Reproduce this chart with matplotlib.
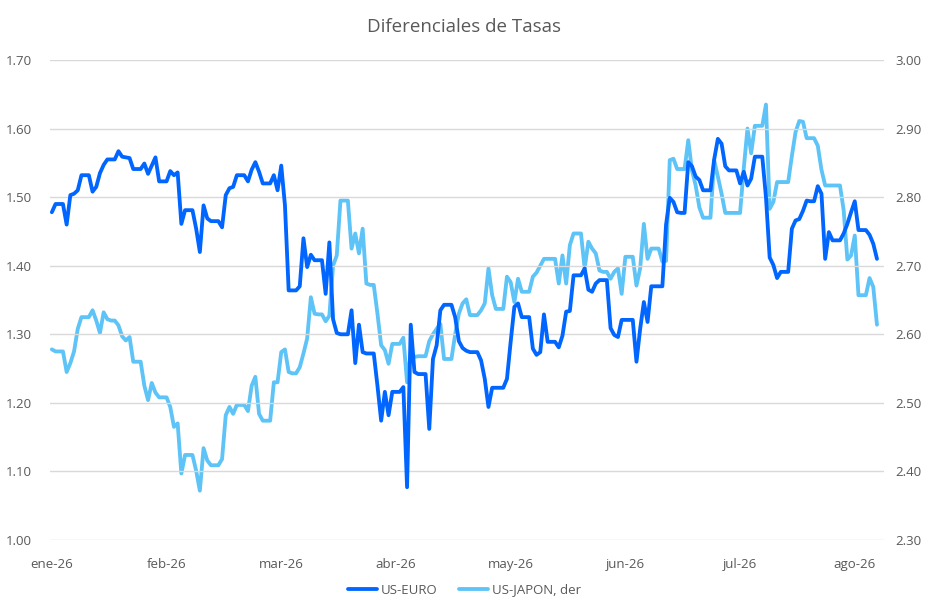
import numpy as np
import pandas as pd
import matplotlib
matplotlib.use("Agg")
import matplotlib.pyplot as plt

# Daily values (weekends carry Friday's value), 1 Jan 2026 .. 12 Aug 2026
us_euro = [
    1.478, 1.490, 1.490, 1.490,
    1.460, 1.503, 1.505, 1.510, 1.532, 1.532, 1.532,
    1.508, 1.515, 1.535, 1.547, 1.555, 1.555, 1.555,
    1.567, 1.559, 1.558, 1.557, 1.541, 1.541, 1.541,
    1.549, 1.534, 1.546, 1.558, 1.523, 1.523, 1.523,
    1.538, 1.532, 1.536, 1.461, 1.481, 1.481, 1.481,
    1.454, 1.420, 1.488, 1.469, 1.465, 1.465, 1.465,
    1.456, 1.503, 1.513, 1.515, 1.532, 1.532, 1.532,
    1.523, 1.540, 1.551, 1.537, 1.520, 1.520, 1.520,
    1.532, 1.510, 1.546, 1.488, 1.364, 1.364, 1.364,
    1.370, 1.440, 1.398, 1.416, 1.408, 1.408, 1.408,
    1.359, 1.434, 1.322, 1.302, 1.300, 1.300, 1.300,
    1.335, 1.258, 1.314, 1.274, 1.272, 1.272, 1.272,
    1.225, 1.174, 1.216, 1.182, 1.216, 1.216, 1.216,
    1.223, 1.077, 1.314, 1.245, 1.242, 1.242, 1.242,
    1.162, 1.264, 1.284, 1.335, 1.343, 1.343, 1.343,
    1.325, 1.290, 1.280, 1.276, 1.274, 1.274, 1.274,
    1.262, 1.235, 1.194, 1.222, 1.222, 1.222, 1.222,
    1.235, 1.289, 1.340, 1.345, 1.325, 1.325, 1.325,
    1.279, 1.270, 1.274, 1.329, 1.289, 1.289, 1.289,
    1.281, 1.298, 1.333, 1.334, 1.386, 1.386, 1.386,
    1.396, 1.365, 1.362, 1.374, 1.379, 1.379, 1.379,
    1.309, 1.299, 1.296, 1.321, 1.321, 1.321, 1.321,
    1.260, 1.308, 1.347, 1.318, 1.370, 1.370, 1.370,
    1.370, 1.460, 1.499, 1.493, 1.478, 1.477, 1.477,
    1.551, 1.545, 1.530, 1.525, 1.510, 1.510, 1.510,
    1.555, 1.585, 1.578, 1.545, 1.539, 1.539, 1.539,
    1.520, 1.537, 1.517, 1.527, 1.559, 1.559, 1.559,
    1.500, 1.412, 1.401, 1.382, 1.391, 1.391, 1.391,
    1.454, 1.466, 1.468, 1.480, 1.495, 1.494, 1.494,
    1.516, 1.505, 1.410, 1.449, 1.437, 1.437, 1.437,
    1.447, 1.461, 1.478, 1.494, 1.452, 1.452, 1.452,
    1.445, 1.432, 1.410,
]

us_japon = [
    2.578, 2.575, 2.575, 2.575,
    2.545, 2.558, 2.575, 2.608, 2.625, 2.625, 2.625,
    2.635, 2.620, 2.602, 2.632, 2.622, 2.620, 2.620,
    2.613, 2.597, 2.591, 2.596, 2.560, 2.560, 2.560,
    2.525, 2.504, 2.529, 2.515, 2.508, 2.508, 2.508,
    2.494, 2.465, 2.470, 2.397, 2.424, 2.424, 2.424,
    2.401, 2.372, 2.434, 2.416, 2.409, 2.409, 2.409,
    2.418, 2.482, 2.494, 2.484, 2.497, 2.497, 2.497,
    2.488, 2.525, 2.538, 2.484, 2.474, 2.474, 2.474,
    2.530, 2.530, 2.574, 2.578, 2.545, 2.543, 2.543,
    2.552, 2.572, 2.594, 2.654, 2.630, 2.629, 2.629,
    2.619, 2.627, 2.700, 2.715, 2.795, 2.795, 2.795,
    2.725, 2.747, 2.718, 2.754, 2.674, 2.672, 2.672,
    2.630, 2.584, 2.577, 2.557, 2.586, 2.586, 2.586,
    2.595, 2.530, 2.574, 2.567, 2.568, 2.568, 2.568,
    2.590, 2.600, 2.608, 2.615, 2.564, 2.564, 2.564,
    2.600, 2.630, 2.645, 2.651, 2.628, 2.628, 2.628,
    2.635, 2.645, 2.696, 2.657, 2.637, 2.637, 2.637,
    2.684, 2.676, 2.647, 2.681, 2.662, 2.662, 2.662,
    2.684, 2.690, 2.700, 2.710, 2.710, 2.710, 2.710,
    2.674, 2.715, 2.674, 2.730, 2.747, 2.747, 2.747,
    2.696, 2.735, 2.725, 2.718, 2.693, 2.691, 2.691,
    2.681, 2.691, 2.696, 2.659, 2.713, 2.713, 2.713,
    2.671, 2.696, 2.761, 2.710, 2.725, 2.725, 2.725,
    2.706, 2.707, 2.854, 2.856, 2.841, 2.841, 2.841,
    2.883, 2.839, 2.817, 2.785, 2.770, 2.770, 2.770,
    2.854, 2.830, 2.805, 2.777, 2.777, 2.777, 2.777,
    2.777, 2.842, 2.900, 2.864, 2.904, 2.904, 2.904,
    2.935, 2.783, 2.793, 2.822, 2.822, 2.822, 2.822,
    2.860, 2.895, 2.911, 2.910, 2.886, 2.886, 2.886,
    2.875, 2.840, 2.817, 2.817, 2.817, 2.817, 2.817,
    2.781, 2.709, 2.715, 2.744, 2.657, 2.657, 2.657,
    2.682, 2.669, 2.614,
]

month_labels = ["ene-26", "feb-26", "mar-26", "abr-26",
                "may-26", "jun-26", "jul-26", "ago-26"]
label_every = 31
series_names = ["US-EURO", "US-JAPON, der"]

dates = pd.date_range("2026-01-01", periods=len(us_euro), freq="D")
x = np.arange(len(dates))

DARK = "#0066FF"
LIGHT = "#5EC3F6"
TXT = "#595959"
GRID = "#D9D9D9"

plt.rcParams["font.family"] = ["Open Sans", "DejaVu Sans"]

fig = plt.figure(figsize=(9.29, 6.15), dpi=100)
ax = fig.add_axes([50 / 929, 1 - 540 / 615, 834 / 929, 480 / 615])
ax2 = ax.twinx()

l1, = ax.plot(x, us_euro, color=DARK, lw=2.75, solid_joinstyle="round",
              solid_capstyle="round", zorder=3)
l2, = ax2.plot(x, us_japon, color=LIGHT, lw=2.75, solid_joinstyle="round",
               solid_capstyle="round", zorder=2)
ax.set_zorder(ax2.get_zorder() + 1)
ax.patch.set_visible(False)

ax.set_xlim(-0.5, 224.9)
ax.set_ylim(1.0, 1.7)
ax2.set_ylim(2.3, 3.0)
ax.set_yticks(np.round(np.arange(1.0, 1.701, 0.1), 2))
ax2.set_yticks(np.round(np.arange(2.3, 3.001, 0.1), 2))
ax.yaxis.set_major_formatter(matplotlib.ticker.FormatStrFormatter("%.2f"))
ax2.yaxis.set_major_formatter(matplotlib.ticker.FormatStrFormatter("%.2f"))

ticks = list(range(0, len(x), label_every))[:len(month_labels)]
ax.set_xticks(ticks)
ax.set_xticklabels(month_labels)

ax.grid(axis="y", color=GRID, lw=1.0, zorder=0)
ax2.grid(False)
for a in (ax, ax2):
    for s in a.spines.values():
        s.set_visible(False)
    a.tick_params(length=0, labelsize=9.5, colors=TXT)
ax.tick_params(axis="y", pad=13)
ax2.tick_params(axis="y", pad=8)
ax.tick_params(axis="x", pad=13)

fig.suptitle("Diferenciales de Tasas", x=0.5, y=1 - 27 / 615, va="center",
             fontsize=13.5, color=TXT)

fig.legend([l1, l2], series_names, loc="center", bbox_to_anchor=(0.5, 1 - 590 / 615),
           ncol=2, frameon=False, fontsize=9.5, labelcolor=TXT,
           handlelength=2.2, handletextpad=0.3, columnspacing=1.6)

fig.savefig("out.png", dpi=100)
